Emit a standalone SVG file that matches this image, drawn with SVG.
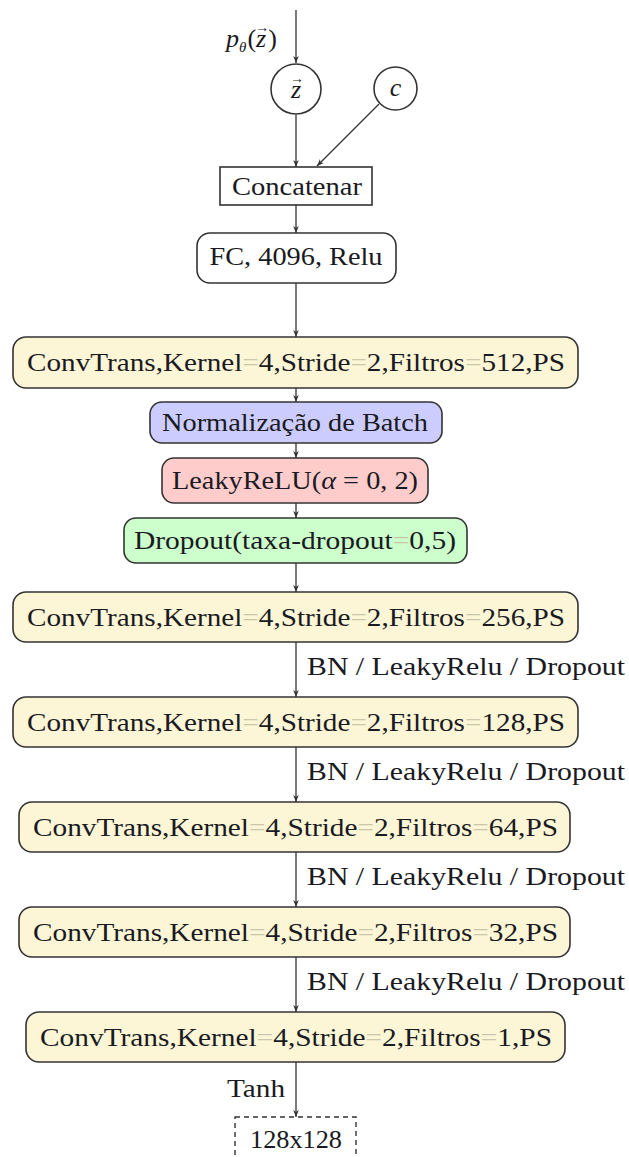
<svg xmlns="http://www.w3.org/2000/svg" width="629" height="1157" viewBox="0 0 629 1157">
<style>
text{font-family:"Liberation Serif","Times New Roman",serif;fill:#1a1a22;}
.t{font-size:26px;text-anchor:middle;}
.lbl{font-size:25px;}
.it{font-style:italic;}
.eq{fill:#c9c6ac;}
.conv{fill:#fcf6d6;stroke:#333;stroke-width:1.6;}
.bn{fill:#ccccff;stroke:#333;stroke-width:1.6;}
.lr{fill:#ffcccc;stroke:#333;stroke-width:1.6;}
.dp{fill:#ccffcc;stroke:#333;stroke-width:1.6;}
.plain{fill:#fff;stroke:#333;stroke-width:1.6;}
.edge{stroke:#333;stroke-width:1.3;fill:none;marker-end:url(#ah);}
</style>
<defs>
<marker id="ah" viewBox="0 0 10 10" refX="10" refY="5" markerWidth="7" markerHeight="7" markerUnits="userSpaceOnUse" orient="auto">
<path d="M0,1 L10,5 L0,9 L3,5 z" fill="#333"/>
</marker>
</defs>
<rect width="629" height="1157" fill="#fff"/>

<g id="connectors">
<path class="edge" d="M296,10 V63"/>
<path class="edge" d="M296,115 V167"/>
<path class="edge" d="M379,104 L317,166"/>
<path class="edge" d="M296,205 V233"/>
<path class="edge" d="M296,283 V337"/>
<path class="edge" d="M296,388 V402"/>
<path class="edge" d="M296,443 V458"/>
<path class="edge" d="M296,503 V518"/>
<path class="edge" d="M296,563 V592"/>
<path class="edge" d="M296,642 V697"/>
<path class="edge" d="M296,747 V802"/>
<path class="edge" d="M296,852 V907"/>
<path class="edge" d="M296,957 V1012"/>
<path class="edge" d="M296,1062 V1117"/>
<text id="label-prior" font-size="26" x="226" y="47"><tspan class="it">p</tspan><tspan class="it" font-size="15" dy="5">θ</tspan><tspan dy="-5" dx="1">(</tspan><tspan class="it">z</tspan><tspan font-size="14" dx="-11" dy="-15">→</tspan><tspan dx="-1" dy="15">)</tspan></text>
<text class="lbl" x="307" y="675" textLength="318" lengthAdjust="spacingAndGlyphs">BN / LeakyRelu / Dropout</text>
<text class="lbl" x="307" y="780" textLength="318" lengthAdjust="spacingAndGlyphs">BN / LeakyRelu / Dropout</text>
<text class="lbl" x="307" y="885" textLength="318" lengthAdjust="spacingAndGlyphs">BN / LeakyRelu / Dropout</text>
<text class="lbl" x="307" y="990" textLength="318" lengthAdjust="spacingAndGlyphs">BN / LeakyRelu / Dropout</text>
<text class="lbl" x="227" y="1097" textLength="58" lengthAdjust="spacingAndGlyphs">Tanh</text>
</g>

<g id="node-z">
<circle cx="296" cy="89" r="25" class="plain"/>
<text font-size="26" x="290" y="98"><tspan class="it">z</tspan><tspan font-size="14" dx="-11" dy="-15">→</tspan></text>
</g>
<g id="node-c">
<circle cx="395.5" cy="88.5" r="21.5" class="plain"/>
<text class="t it" x="395.5" y="96">c</text>
</g>
<g id="node-concat">
<rect x="220" y="167" width="152" height="38" class="plain"/>
<text class="t" x="297" y="195" textLength="130" lengthAdjust="spacingAndGlyphs">Concatenar</text>
</g>
<g id="node-fc">
<rect x="197" y="233" width="199" height="50" rx="13" class="plain"/>
<text class="t" x="296" y="265" textLength="173" lengthAdjust="spacingAndGlyphs">FC, 4096, Relu</text>
</g>
<g id="node-conv512">
<rect x="13" y="337" width="565" height="51" rx="13" class="conv"/>
<text class="t" x="296" y="371" textLength="538" lengthAdjust="spacingAndGlyphs">ConvTrans,Kernel<tspan class="eq">=</tspan>4,Stride<tspan class="eq">=</tspan>2,Filtros<tspan class="eq">=</tspan>512,PS</text>
</g>
<g id="node-bn">
<rect x="150" y="402" width="292" height="41" rx="12" class="bn"/>
<text class="t" x="295" y="431" textLength="266" lengthAdjust="spacingAndGlyphs">Normalização de Batch</text>
</g>
<g id="node-leaky">
<rect x="162" y="458" width="266" height="45" rx="12" class="lr"/>
<text class="t" x="295" y="489" textLength="246" lengthAdjust="spacingAndGlyphs">LeakyReLU(<tspan class="it">α</tspan> = 0, 2)</text>
</g>
<g id="node-dropout">
<rect x="124" y="518" width="343" height="45" rx="12" class="dp"/>
<text class="t" x="295" y="549" textLength="322" lengthAdjust="spacingAndGlyphs">Dropout(taxa-dropout<tspan class="eq">=</tspan>0,5)</text>
</g>
<g id="node-conv256">
<rect x="13" y="592" width="565" height="50" rx="13" class="conv"/>
<text class="t" x="296" y="626" textLength="538" lengthAdjust="spacingAndGlyphs">ConvTrans,Kernel<tspan class="eq">=</tspan>4,Stride<tspan class="eq">=</tspan>2,Filtros<tspan class="eq">=</tspan>256,PS</text>
</g>
<g id="node-conv128">
<rect x="13" y="697" width="565" height="50" rx="13" class="conv"/>
<text class="t" x="296" y="731" textLength="538" lengthAdjust="spacingAndGlyphs">ConvTrans,Kernel<tspan class="eq">=</tspan>4,Stride<tspan class="eq">=</tspan>2,Filtros<tspan class="eq">=</tspan>128,PS</text>
</g>
<g id="node-conv64">
<rect x="19" y="802" width="551" height="50" rx="13" class="conv"/>
<text class="t" x="295.5" y="836" textLength="525" lengthAdjust="spacingAndGlyphs">ConvTrans,Kernel<tspan class="eq">=</tspan>4,Stride<tspan class="eq">=</tspan>2,Filtros<tspan class="eq">=</tspan>64,PS</text>
</g>
<g id="node-conv32">
<rect x="19" y="907" width="551" height="50" rx="13" class="conv"/>
<text class="t" x="295.5" y="941" textLength="525" lengthAdjust="spacingAndGlyphs">ConvTrans,Kernel<tspan class="eq">=</tspan>4,Stride<tspan class="eq">=</tspan>2,Filtros<tspan class="eq">=</tspan>32,PS</text>
</g>
<g id="node-conv1">
<rect x="26" y="1012" width="539" height="50" rx="13" class="conv"/>
<text class="t" x="296" y="1046" textLength="512" lengthAdjust="spacingAndGlyphs">ConvTrans,Kernel<tspan class="eq">=</tspan>4,Stride<tspan class="eq">=</tspan>2,Filtros<tspan class="eq">=</tspan>1,PS</text>
</g>
<g id="node-output">
<rect x="235" y="1117" width="121" height="60" fill="none" stroke="#333" stroke-width="1.4" stroke-dasharray="5,4"/>
<text class="t" x="296" y="1148" textLength="92" lengthAdjust="spacingAndGlyphs">128x128</text>
</g>
</svg>
